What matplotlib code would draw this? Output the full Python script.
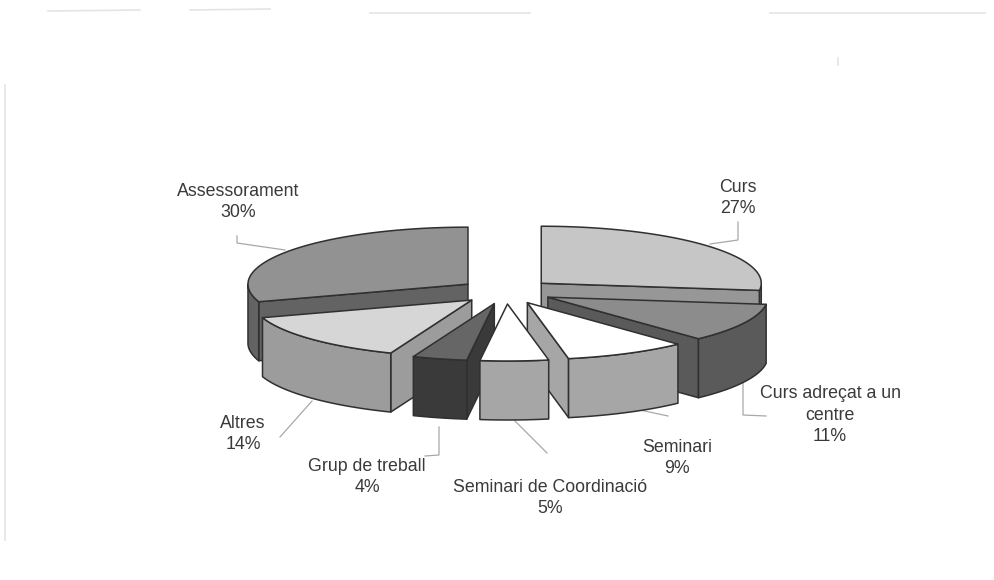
import numpy as np
import matplotlib
matplotlib.use('Agg')
import matplotlib.pyplot as plt

# Datos del grafico
labels = ['Curs', 'Curs adreçat a un\ncentre', 'Seminari', 'Seminari de Coordinació',
          'Grup de treball', 'Altres', 'Assessorament']
values = [27, 11, 9, 5, 4, 14, 30]
top_grays = ['#c6c6c6', '#8c8c8c', '#ffffff', '#ffffff', '#666666', '#d6d6d6', '#929292']
side_grays = ['#979797', '#5a5a5a', '#a6a6a6', '#a6a6a6', '#3a3a3a', '#9c9c9c', '#636363']
label_pos = [(738, 198), (830, 415), (677, 458), (550, 498), (367, 477), (243, 434), (238, 202)]

# Geometria del pastel en perspectiva (pixeles de la imagen)
cx, cy = 506, 291.5
rx, ry = 220, 57
explode_x, explode_y = 47, 12.5
depth = 59

leaders = [
    [(738, 222), (738, 240), (710, 244)],
    [(743, 382), (743, 415), (766, 416)],
    [(668, 416), (640, 410)],
    [(515, 421), (547, 453)],
    [(439, 427), (439, 455), (425, 456)],
    [(312, 401), (280, 437)],
    [(237, 236), (237, 243), (285, 250)],
]
# Marcas del escaneado
scan_marks = [
    [(48, 11), (140, 10)], [(190, 10), (270, 9)], [(370, 13), (530, 13)], [(770, 13), (985, 13)],
    [(5, 85), (5, 540)], [(838, 58), (838, 65)],
]


def rim(a, b, ox, oy, n=60):
    t = np.radians(np.linspace(a, b, n))
    return ox + rx * np.sin(t), oy - ry * np.cos(t)


def face(ax, x, y, color, z):
    ax.fill(x, y, facecolor=color, edgecolor='#303030', linewidth=1.1, joinstyle='round', zorder=z)


fig = plt.figure(figsize=(9.95, 5.8), dpi=100)
ax = fig.add_axes([0, 0, 1, 1])
ax.set_xlim(0, 995)
ax.set_ylim(580, 0)
ax.axis('off')

edges = np.cumsum([0] + values) * 3.6
mids = (edges[:-1] + edges[1:]) / 2
# de atras hacia adelante
order = np.argsort(-np.cos(np.radians(mids)))

for k, i in enumerate(order):
    a, b = edges[i], edges[i + 1]
    t = np.radians(mids[i])
    ox = cx + explode_x * np.sin(t)
    oy = cy - explode_y * np.cos(t)
    z = 2 + k
    # caras radiales
    if b < 180:
        px, py = rim(b, b, ox, oy, 1)
        face(ax, [ox, px[0], px[0], ox], [oy, py[0], py[0] + depth, oy + depth], side_grays[i], z)
    if a > 180:
        px, py = rim(a, a, ox, oy, 1)
        face(ax, [ox, px[0], px[0], ox], [oy, py[0], py[0] + depth, oy + depth], side_grays[i], z)
    # cara exterior
    lo, hi = max(a, 90), min(b, 270)
    if lo < hi:
        px, py = rim(lo, hi, ox, oy)
        face(ax, np.r_[px, px[::-1]], np.r_[py, py[::-1] + depth], side_grays[i], z)
    # cara superior
    px, py = rim(a, b, ox, oy)
    face(ax, np.r_[ox, px], np.r_[oy, py], top_grays[i], z)

for name, val, (x, y) in zip(labels, values, label_pos):
    ax.text(x, y, f'{name}\n{val}%', ha='center', va='center', fontsize=12.8,
            family='Liberation Sans', color='#3a3a3a', linespacing=1.35, zorder=20)

for line in leaders:
    xs, ys = zip(*line)
    ax.plot(xs, ys, color='#a8a8a8', linewidth=0.9, zorder=1)

for line in scan_marks:
    xs, ys = zip(*line)
    ax.plot(xs, ys, color='#e4e4e4', linewidth=1.2, zorder=0)

fig.savefig('out.png', dpi=100)
